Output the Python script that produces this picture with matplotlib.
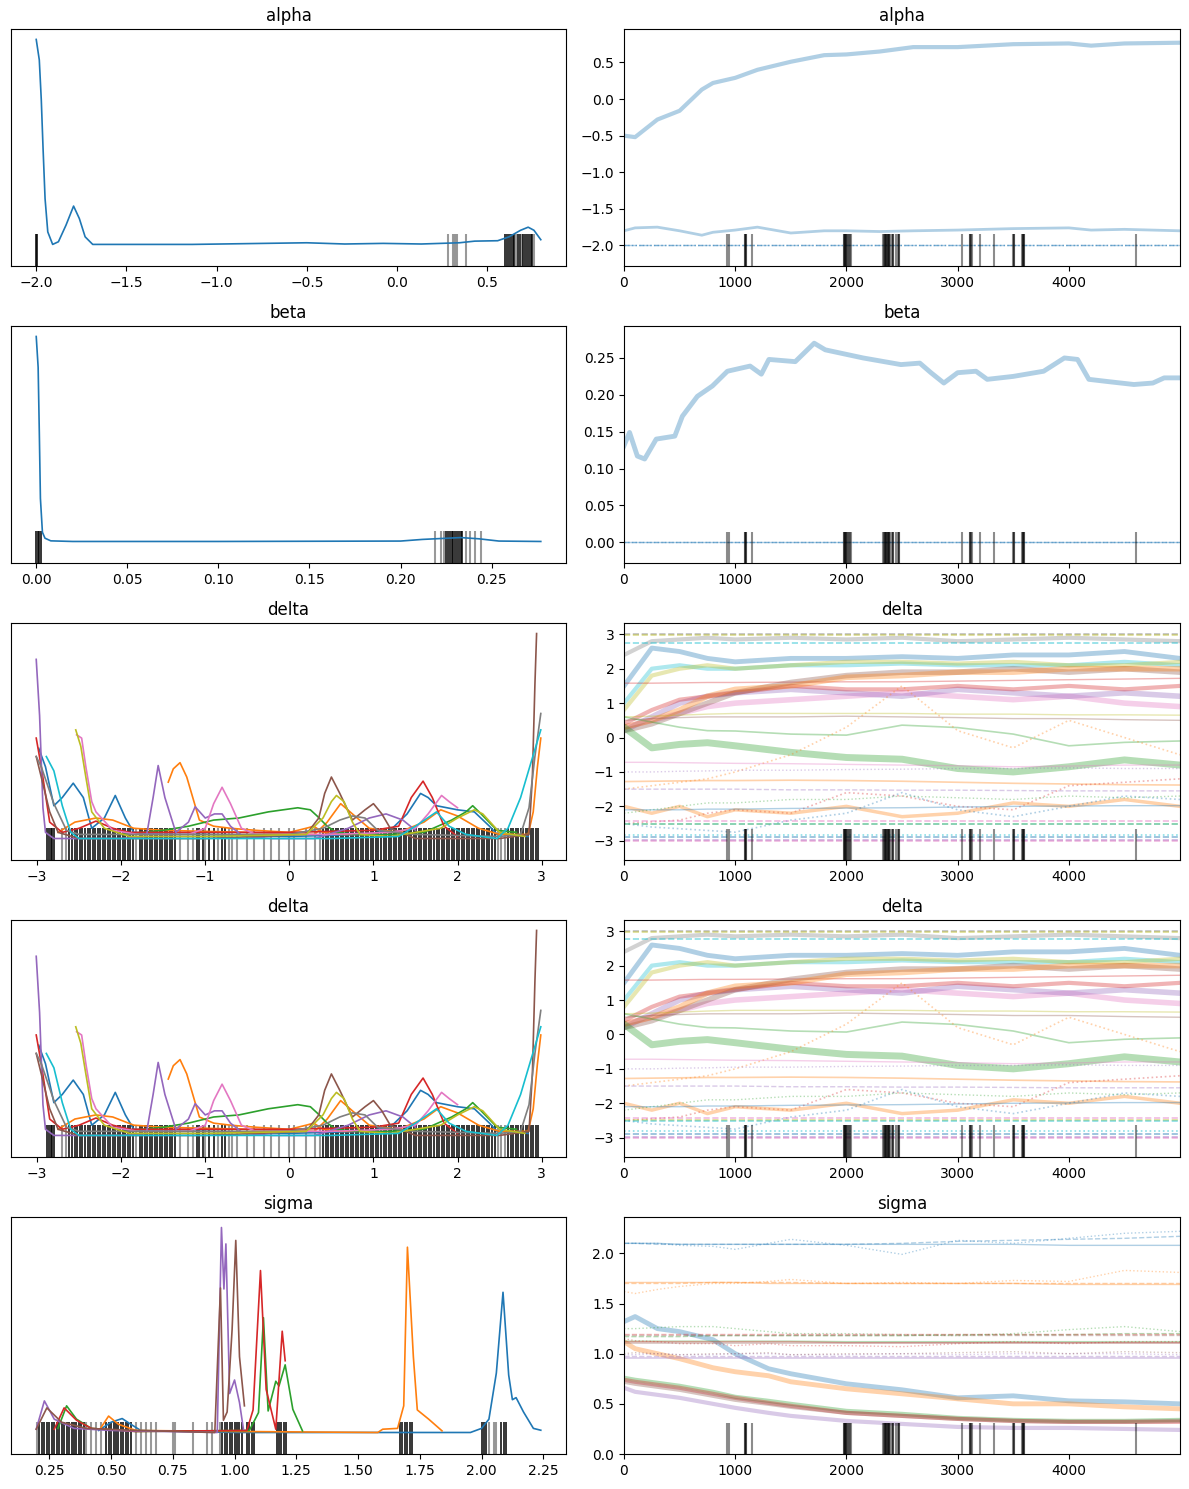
import numpy as np
import matplotlib
matplotlib.use("Agg")
import matplotlib.pyplot as plt

# ---- draws where divergences happened (shared by all trace panels)
div_draws = [930, 940, 1090, 1090, 1095, 1100, 1150, 1975, 1980, 1985, 1990, 1995,
             2000, 2005, 2010, 2020, 2030, 2040, 2330, 2340, 2345, 2350, 2355, 2360,
             2365, 2370, 2375, 2380, 2385, 2390, 2410, 2415, 2420, 2450, 2460, 2470,
             2475, 3040, 3110, 3115, 3120, 3125, 3200, 3330, 3500, 3505, 3510, 3580,
             3585, 3590, 3595, 3600, 4600]

# ---- alpha
alpha_kde_x = [-2.0, -1.983, -1.972, -1.962, -1.951, -1.936, -1.909, -1.877, -1.835, -1.793,
               -1.761, -1.729, -1.687, -1.136, -0.501, -0.29, -0.078, 0.134, 0.345, 0.43,
               0.557, 0.62, 0.684, 0.726, 0.758, 0.796]
alpha_kde_y = [1.0, 0.90, 0.706, 0.465, 0.223, 0.061, 0.0, 0.013, 0.094, 0.187,
               0.126, 0.037, 0.0, 0.0, 0.008, 0.002, 0.005, 0.002, 0.008, 0.016,
               0.018, 0.037, 0.069, 0.084, 0.069, 0.023]
alpha_div_dense = [-2.0, -1.998, 0.60, 0.61, 0.62, 0.63, 0.64, 0.65, 0.67, 0.68, 0.70,
                   0.71, 0.72, 0.73, 0.74, 0.75]
alpha_div_sparse = [0.28, 0.31, 0.32, 0.33, 0.38, 0.66, 0.69, 0.76]
alpha_steps = [0, 100, 300, 500, 700, 800, 1000, 1200, 1500, 1800, 2000, 2300, 2600,
               3000, 3500, 4000, 4200, 4500, 4999]
alpha_chain0 = [-0.5, -0.52, -0.28, -0.16, 0.13, 0.22, 0.29, 0.4, 0.51, 0.6, 0.61, 0.65,
                0.71, 0.71, 0.75, 0.76, 0.73, 0.76, 0.77]
alpha_chain1 = [-1.8, -1.76, -1.75, -1.8, -1.86, -1.82, -1.79, -1.75, -1.83, -1.8, -1.8,
                -1.81, -1.8, -1.79, -1.77, -1.76, -1.79, -1.78, -1.8]
alpha_stuck = -2.0

# ---- beta
beta_kde_x = [0.0, 0.00105, 0.0017, 0.0023, 0.0034, 0.0048, 0.008, 0.02, 0.1, 0.2,
              0.212, 0.233, 0.243, 0.254, 0.277]
beta_kde_y = [1.0, 0.85, 0.53, 0.21, 0.045, 0.016, 0.003, 0.0, 0.0, 0.002,
              0.01, 0.019, 0.013, 0.002, 0.0]
beta_div_dense = [0.0, 0.0008, 0.0016, 0.0024, 0.225, 0.226, 0.227, 0.228, 0.229, 0.230,
                  0.231, 0.232, 0.233, 0.234]
beta_div_sparse = [0.219, 0.222, 0.224, 0.236, 0.238, 0.241, 0.244]
beta_steps = [0, 50, 120, 186, 290, 457, 525, 660, 795, 930, 1134, 1235, 1303, 1540,
              1710, 1810, 2150, 2490, 2660, 2760, 2876, 3000, 3165, 3266, 3500, 3773,
              3960, 4078, 4180, 4350, 4585, 4755, 4857, 4999]
beta_chain0 = [0.131, 0.149, 0.117, 0.113, 0.14, 0.144, 0.171, 0.198, 0.212, 0.232,
               0.239, 0.228, 0.248, 0.245, 0.27, 0.261, 0.25, 0.241, 0.243, 0.23, 0.216,
               0.23, 0.232, 0.221, 0.225, 0.232, 0.25, 0.248, 0.221, 0.218, 0.214, 0.216,
               0.223, 0.223]
beta_stuck = 0.001

# ---- delta (density curves, one per component)
kde_d0_x = [-2.98, -2.9, -2.8, -2.7, -2.57, -2.45, -2.35, -2.2, -2.07, -1.95, -1.85, -1.5,
            -1.0, 0.0, 0.9, 1.2, 1.4, 1.56, 1.65, 1.75, 2.0, 2.2, 2.38, 2.47, 2.6, 2.84]
kde_d0_y = [0.44, 0.35, 0.16, 0.2, 0.27, 0.2, 0.05, 0.1, 0.21, 0.1, 0.03, 0.02,
            0.02, 0.01, 0.02, 0.04, 0.12, 0.22, 0.2, 0.16, 0.14, 0.13, 0.06, 0.02, 0.02, 0.01]
kde_d1a_x = [-1.44, -1.38, -1.3, -1.22, -1.07, -0.9, -0.7, -0.4, 0.0, 0.2, 0.29, 0.4, 0.6, 1.0]
kde_d1a_y = [0.275, 0.34, 0.37, 0.3, 0.09, 0.06, 0.05, 0.04, 0.03, 0.05, 0.06, 0.03, 0.02, 0.02]
kde_d1b_x = [-2.75, -2.55, -2.3, -2.1, -1.85, -1.5, -0.5, 0.3, 0.45, 0.61, 0.75, 0.95, 1.3,
             1.6, 1.8, 2.0, 2.25, 2.5, 2.84, 2.9, 2.95, 2.99]
kde_d1b_y = [0.03, 0.08, 0.10, 0.09, 0.05, 0.04, 0.03, 0.02, 0.08, 0.17, 0.12, 0.05, 0.03,
             0.08, 0.14, 0.11, 0.05, 0.02, 0.02, 0.13, 0.35, 0.49]
kde_d2_x = [-2.0, -1.5, -1.2, -0.9, -0.6, -0.25, 0.1, 0.25, 0.33, 0.45, 0.56, 0.8, 1.2, 1.6,
            1.93, 2.1, 2.18, 2.28, 2.47, 2.7]
kde_d2_y = [0.02, 0.04, 0.06, 0.09, 0.1, 0.13, 0.15, 0.14, 0.11, 0.06, 0.03, 0.02, 0.02, 0.03,
            0.09, 0.13, 0.16, 0.12, 0.04, 0.03]
kde_d3_x = [-3.01, -2.95, -2.85, -2.7, -2.5, -2.3, -2.1, -1.9, -1.0, 0.0, 1.0, 1.3, 1.45,
            1.59, 1.7, 1.84, 2.0]
kde_d3_y = [0.49, 0.35, 0.08, 0.03, 0.05, 0.085, 0.05, 0.03, 0.03, 0.03, 0.04, 0.06, 0.2,
            0.28, 0.2, 0.06, 0.01]
kde_d4_x = [-3.01, -2.97, -2.93, -2.9, -2.8, -2.0, -1.7, -1.62, -1.56, -1.48, -1.35, -1.2,
            -1.12, -1.0, -0.89, -0.8, -0.7, -0.55, -0.2, 0.3, 0.7, 0.95, 1.15, 1.35, 1.5]
kde_d4_y = [0.874, 0.6, 0.15, 0.03, 0.0, 0.0, 0.01, 0.2, 0.356, 0.2, 0.03, 0.08,
            0.155, 0.1, 0.12, 0.12, 0.06, 0.01, 0.0, 0.0, 0.05, 0.1, 0.12, 0.09, 0.04]
kde_d5_x = [-3.01, -2.95, -2.85, -2.75, -2.5, -1.0, 0.2, 0.35, 0.42, 0.5, 0.6, 0.75, 0.9,
            1.0, 1.1, 1.2, 1.5, 2.5, 2.85, 2.89, 2.92, 2.94]
kde_d5_y = [0.40, 0.3, 0.13, 0.03, 0.0, 0.0, 0.02, 0.1, 0.22, 0.30, 0.22, 0.09, 0.14,
            0.17, 0.12, 0.05, 0.0, 0.0, 0.02, 0.3, 0.75, 1.0]
kde_d6_x = [-2.53, -2.47, -2.42, -2.35, -2.3, -2.1, -1.8, -1.2, -1.0, -0.9, -0.8, -0.7,
            -0.57, -0.4, 0.5, 1.2, 1.5, 1.65, 1.81, 1.9, 2.0]
kde_d6_y = [0.506, 0.49, 0.35, 0.18, 0.13, 0.04, 0.02, 0.02, 0.05, 0.17, 0.25, 0.17,
            0.05, 0.02, 0.02, 0.03, 0.05, 0.12, 0.21, 0.18, 0.15]
kde_d7_x = [-3.01, -2.95, -2.8, -2.65, -2.5, -1.5, 0.0, 0.4, 0.6, 0.75, 0.9, 1.05, 1.5,
            2.5, 2.75, 2.85, 2.92, 2.99]
kde_d7_y = [0.40, 0.35, 0.17, 0.04, 0.02, 0.02, 0.02, 0.05, 0.09, 0.11, 0.1, 0.04, 0.02,
            0.01, 0.02, 0.15, 0.4, 0.61]
kde_d8_x = [-2.54, -2.48, -2.42, -2.35, -2.2, -1.9, -1.0, 0.2, 0.4, 0.5, 0.56, 0.65, 0.75,
            0.84, 1.2, 1.8, 2.0, 2.2, 2.3, 2.5, 2.8]
kde_d8_y = [0.53, 0.45, 0.3, 0.13, 0.05, 0.01, 0.01, 0.02, 0.1, 0.18, 0.21, 0.18, 0.08,
            0.02, 0.01, 0.05, 0.1, 0.14, 0.12, 0.03, 0.01]
kde_d9_x = [-2.89, -2.8, -2.7, -2.6, -2.5, -1.0, 0.5, 1.3, 1.5, 1.75, 1.9, 2.1, 2.47, 2.6,
            2.75, 2.88, 2.99]
kde_d9_y = [0.40, 0.33, 0.16, 0.03, 0.0, 0.0, 0.0, 0.01, 0.06, 0.13, 0.06, 0.02, 0.0, 0.05,
            0.2, 0.38, 0.53]

delta_div_dense = [-2.88, -2.86, -2.84, -2.82, -2.80, -2.62, -2.58, -2.55, -2.52, -2.49,
                   -2.46, -2.43, -2.4, -2.37, -2.34, -2.31, -2.28, -2.25, -2.22, -2.19,
                   -2.16, -2.13, -2.1, -2.07, -2.04, -2.01, -1.98, -1.95, -1.92, -1.89,
                   -1.86, -1.78, -1.75, -1.72, -1.69, -1.66, -1.63, -1.6, -1.57, -1.54,
                   -1.51, -1.48, -1.45, -1.42, -1.39, -1.36, -1.1, -1.07, -1.03, -0.95,
                   -0.9, -0.8, -0.76, 0.4, 0.43, 0.46, 0.49, 0.52, 0.55, 0.58, 0.61, 0.64,
                   0.67, 0.7, 0.73, 0.76, 0.79, 0.82, 0.85, 0.88, 0.91, 0.94, 0.97, 1.0,
                   1.03, 1.06, 1.09, 1.12, 1.15, 1.18, 1.21, 1.24, 1.27, 1.3, 1.33, 1.36,
                   1.39, 1.42, 1.45, 1.48, 1.51, 1.54, 1.57, 1.6, 1.63, 1.66, 1.69, 1.72,
                   1.75, 1.78, 1.81, 1.84, 1.87, 1.9, 1.93, 1.96, 1.99, 2.02, 2.05, 2.08,
                   2.11, 2.14, 2.17, 2.2, 2.23, 2.26, 2.29, 2.32, 2.35, 2.38, 2.41, 2.44,
                   2.6, 2.63, 2.66, 2.69, 2.72, 2.75, 2.78, 2.81, 2.84, 2.87, 2.9, 2.93, 2.96]
delta_div_sparse = [-2.7, -2.66, -1.82, -1.3, -1.2, -1.15, -1.0, -0.85, -0.72, -0.68,
                    -0.62, -0.5, -0.42, -0.3, -0.22, -0.12, 0.0, 0.05, 0.2, 0.3, 0.36,
                    2.48, 2.52, 2.56]

# ---- delta traces, read at these draws
delta_steps = [0, 250, 500, 750, 1000, 1500, 2000, 2500, 3000, 3500, 4000, 4500, 4999]
dtr_gray_noisy = [2.4, 2.8, 2.85, 2.9, 2.85, 2.9, 2.85, 2.9, 2.8, 2.85, 2.9, 2.85, 2.8]
dtr_blue_noisy = [1.5, 2.6, 2.5, 2.3, 2.2, 2.3, 2.3, 2.35, 2.3, 2.4, 2.4, 2.5, 2.3]
dtr_cyan_noisy = [1.0, 2.0, 2.1, 2.0, 2.0, 2.1, 2.1, 2.15, 2.1, 2.1, 2.1, 2.2, 2.1]
dtr_olive_noisy = [0.8, 1.8, 2.0, 2.1, 2.0, 2.1, 2.2, 2.2, 2.15, 2.2, 2.1, 2.1, 2.2]
dtr_orange_noisy = [0.3, 0.5, 0.8, 1.2, 1.4, 1.5, 1.75, 1.8, 1.9, 1.9, 2.0, 2.0, 2.0]
dtr_brown_noisy = [0.2, 0.4, 0.7, 1.0, 1.3, 1.6, 1.8, 1.9, 1.9, 2.0, 1.9, 2.0, 1.9]
dtr_red_flat = [1.58, 1.58, 1.59, 1.6, 1.6, 1.61, 1.62, 1.62, 1.64, 1.66, 1.68, 1.7, 1.72]
dtr_pink_noisy = [0.3, 0.5, 0.7, 0.9, 1.0, 1.1, 1.2, 1.3, 1.2, 1.1, 1.2, 1.0, 0.9]
dtr_purple_noisy = [0.2, 0.6, 1.0, 1.2, 1.3, 1.4, 1.3, 1.2, 1.4, 1.3, 1.2, 1.3, 1.2]
dtr_red_noisy = [0.4, 0.8, 1.1, 1.2, 1.3, 1.5, 1.4, 1.4, 1.5, 1.4, 1.5, 1.4, 1.5]
dtr_brown_flat = [0.5, 0.55, 0.58, 0.6, 0.6, 0.6, 0.62, 0.6, 0.58, 0.55, 0.55, 0.52, 0.5]
dtr_olive_flat = [0.6, 0.62, 0.65, 0.68, 0.7, 0.7, 0.7, 0.7, 0.68, 0.68, 0.66, 0.66, 0.65]
dtr_green_noisy = [0.3, -0.3, -0.2, -0.15, -0.24, -0.43, -0.58, -0.63, -0.9, -1.0, -0.85, -0.65, -0.8]
dtr_green_flat = [0.6, 0.45, 0.3, 0.2, 0.19, 0.1, 0.07, 0.36, 0.29, 0.1, -0.24, -0.14, -0.1]
dtr_orange_dot = [-1.5, -1.4, -1.3, -1.2, -1.0, -0.5, 0.3, 1.5, 0.2, -0.3, 0.5, 0.0, -0.5]
dtr_pink_flat = [-0.72, -0.72, -0.73, -0.74, -0.75, -0.76, -0.78, -0.8, -0.82, -0.85, -0.83, -0.8, -0.8]
dtr_purple_dot = [-1.0, -1.0, -0.98, -0.97, -0.95, -0.95, -0.93, -0.92, -0.9, -0.9, -0.88, -0.9, -0.9]
dtr_orange_flat = [-1.28, -1.27, -1.26, -1.25, -1.25, -1.24, -1.25, -1.27, -1.3, -1.33, -1.35, -1.37, -1.38]
dtr_purple_dash = [-1.5, -1.5, -1.5, -1.5, -1.5, -1.52, -1.52, -1.53, -1.53, -1.54, -1.55, -1.55, -1.55]
dtr_red_dot = [-2.5, -2.45, -2.4, -2.2, -2.1, -2.2, -1.6, -1.7, -2.0, -2.1, -1.4, -1.3, -1.2]
dtr_orange_noisy2 = [-2.0, -2.2, -2.0, -2.3, -2.1, -2.2, -2.0, -2.3, -2.2, -1.9, -2.0, -1.8, -2.0]
dtr_blue_flat = [-2.1, -2.1, -2.1, -2.08, -2.08, -2.06, -2.05, -2.04, -2.02, -2.0, -1.99, -1.98, -1.98]
dtr_blue_dot = [-2.5, -2.6, -2.65, -2.7, -2.75, -2.4, -2.2, -1.6, -2.1, -2.3, -2.0, -1.7, -1.8]
dtr_green_dot = [-2.2, -2.1, -2.0, -1.9, -1.9, -1.8, -1.8, -1.7, -1.75, -1.8, -1.7, -1.75, -1.7]
delta_flat_levels = [3.0, 2.97, 2.76, -2.42, -2.5, -2.52, -2.82, -2.9, -2.97, -3.0]

# ---- sigma
kde_s0_x = [0.45, 0.5, 0.545, 0.58, 0.62, 1.0, 1.5, 1.955, 2.0, 2.03, 2.06, 2.087, 2.11,
            2.125, 2.14, 2.17, 2.21, 2.24]
kde_s0_y = [0.01, 0.05, 0.068, 0.04, 0.01, 0.0, 0.0, 0.0, 0.02, 0.065, 0.29, 0.684, 0.28,
            0.16, 0.17, 0.10, 0.02, 0.011]
kde_s1_x = [0.455, 0.49, 0.53, 0.6, 1.0, 1.58, 1.6, 1.66, 1.685, 1.70, 1.724, 1.74, 1.786, 1.84]
kde_s1_y = [0.016, 0.08, 0.04, 0.01, 0.005, 0.0, 0.016, 0.02, 0.13, 0.904, 0.37, 0.11, 0.065, 0.008]
kde_s2_x = [0.285, 0.32, 0.36, 0.42, 0.6, 1.06, 1.097, 1.117, 1.136, 1.167, 1.18, 1.205,
            1.236, 1.275]
kde_s2_y = [0.02, 0.13, 0.065, 0.02, 0.005, 0.01, 0.097, 0.56, 0.105, 0.25, 0.227, 0.33,
            0.113, 0.008]
kde_s3_x = [0.27, 0.31, 0.36, 0.42, 0.6, 1.05, 1.075, 1.105, 1.128, 1.167, 1.193, 1.205]
kde_s3_y = [0.016, 0.12, 0.06, 0.02, 0.005, 0.01, 0.11, 0.79, 0.21, 0.016, 0.494, 0.35]
kde_s4_x = [0.197, 0.23, 0.27, 0.35, 0.5, 0.93, 0.947, 0.957, 0.965, 0.98, 1.0, 1.02, 1.036]
kde_s4_y = [0.016, 0.154, 0.065, 0.02, 0.01, 0.0, 1.0, 0.7, 0.92, 0.19, 0.256, 0.146, 0.016]
kde_s5_x = [0.197, 0.24, 0.3, 0.4, 0.6, 0.92, 0.943, 0.955, 0.97, 0.99, 1.005, 1.02, 1.04]
kde_s5_y = [0.016, 0.12, 0.05, 0.02, 0.01, 0.0, 0.705, 0.06, 0.1, 0.5, 0.937, 0.37, 0.13]

sigma_div_dense = [0.21, 0.22, 0.23, 0.24, 0.25, 0.26, 0.27, 0.28, 0.29, 0.3, 0.31, 0.32,
                   0.33, 0.34, 0.35, 0.36, 0.37, 0.38, 0.39, 0.48, 0.49, 0.5, 0.51, 0.52,
                   0.53, 0.54, 0.55, 0.56, 0.57, 0.58, 0.95, 0.96, 0.97, 0.98, 0.99, 1.0,
                   1.01, 1.02, 1.03, 1.05, 1.06, 1.07, 1.08, 1.17, 1.18, 1.19, 1.2, 1.21,
                   1.67, 1.68, 1.69, 1.7, 1.71, 1.72, 2.0, 2.01, 2.02, 2.08, 2.09, 2.1]
sigma_div_sparse = [0.2, 0.4, 0.42, 0.44, 0.46, 0.6, 0.62, 0.64, 0.66, 0.68, 0.75, 0.76,
                    0.83, 0.89, 0.91, 0.94, 2.03, 2.05, 2.06]

sigma_steps = [0, 100, 300, 500, 800, 1000, 1300, 1500, 2000, 2500, 3000, 3500, 4000, 4500, 4999]
str_blue_noisy = [1.32, 1.37, 1.25, 1.22, 1.14, 1.0, 0.85, 0.8, 0.7, 0.64, 0.56, 0.58, 0.53, 0.52, 0.5]
str_blue_solid = [2.1, 2.1, 2.1, 2.09, 2.09, 2.09, 2.09, 2.09, 2.09, 2.09, 2.09, 2.09, 2.08, 2.08, 2.08]
str_blue_dash = [2.1, 2.1, 2.09, 2.09, 2.09, 2.09, 2.09, 2.09, 2.09, 2.1, 2.12, 2.13, 2.14, 2.15, 2.17]
str_blue_dot = [2.1, 2.1, 2.1, 2.08, 2.07, 2.04, 2.1, 2.14, 2.08, 1.99, 2.13, 2.1, 2.15, 2.2, 2.22]
str_orange_noisy = [1.12, 1.05, 1.0, 0.95, 0.86, 0.82, 0.78, 0.72, 0.65, 0.6, 0.55, 0.5, 0.5, 0.47, 0.45]
str_orange_solid = [1.71, 1.71, 1.71, 1.71, 1.71, 1.71, 1.7, 1.7, 1.7, 1.7, 1.7, 1.7, 1.69, 1.69, 1.69]
str_orange_dash = [1.7, 1.7, 1.7, 1.7, 1.71, 1.71, 1.71, 1.71, 1.7, 1.7, 1.7, 1.7, 1.7, 1.7, 1.7]
str_orange_dot = [1.62, 1.6, 1.64, 1.67, 1.7, 1.7, 1.72, 1.74, 1.7, 1.71, 1.7, 1.73, 1.72, 1.83, 1.81]
str_green_noisy = [0.76, 0.74, 0.71, 0.68, 0.62, 0.57, 0.53, 0.5, 0.43, 0.4, 0.36, 0.34, 0.33, 0.33, 0.34]
str_green_solid = [1.125, 1.125, 1.125, 1.125, 1.125, 1.125, 1.125, 1.125, 1.12, 1.12, 1.12, 1.12, 1.12, 1.12, 1.12]
str_green_dash = [1.17, 1.17, 1.17, 1.17, 1.18, 1.18, 1.18, 1.18, 1.18, 1.18, 1.19, 1.19, 1.19, 1.2, 1.2]
str_green_dot = [1.25, 1.25, 1.26, 1.27, 1.27, 1.25, 1.22, 1.2, 1.2, 1.19, 1.18, 1.2, 1.24, 1.27, 1.22]
str_red_noisy = [0.74, 0.72, 0.69, 0.66, 0.6, 0.56, 0.51, 0.48, 0.41, 0.38, 0.35, 0.33, 0.32, 0.32, 0.32]
str_red_solid = [1.12, 1.12, 1.12, 1.12, 1.12, 1.12, 1.12, 1.12, 1.11, 1.11, 1.11, 1.11, 1.11, 1.11, 1.11]
str_red_dash = [1.2, 1.2, 1.2, 1.2, 1.2, 1.2, 1.2, 1.2, 1.2, 1.2, 1.2, 1.2, 1.2, 1.2, 1.2]
str_red_dot = [1.15, 1.13, 1.12, 1.1, 1.1, 1.08, 1.1, 1.08, 1.08, 1.07, 1.1, 1.12, 1.1, 1.12, 1.12]
str_purple_noisy = [0.66, 0.62, 0.59, 0.56, 0.5, 0.46, 0.41, 0.38, 0.33, 0.3, 0.27, 0.26, 0.26, 0.25, 0.24]
str_purple_solid = [0.955, 0.955, 0.955, 0.955, 0.955, 0.955, 0.955, 0.955, 0.955, 0.955, 0.955, 0.955, 0.955, 0.955, 0.955]
str_purple_dash = [0.975, 0.975, 0.975, 0.975, 0.975, 0.975, 0.975, 0.975, 0.975, 0.975, 0.975, 0.975, 0.975, 0.975, 0.975]
str_purple_dot = [0.99, 0.99, 1.0, 0.99, 0.99, 1.0, 1.0, 0.99, 0.99, 1.0, 0.99, 1.0, 1.0, 1.0, 0.99]
str_brown_noisy = [0.72, 0.7, 0.67, 0.64, 0.58, 0.54, 0.5, 0.47, 0.41, 0.38, 0.35, 0.33, 0.32, 0.32, 0.33]
str_brown_solid = [1.11, 1.11, 1.11, 1.11, 1.11, 1.11, 1.11, 1.11, 1.11, 1.11, 1.11, 1.11, 1.11, 1.11, 1.11]
str_brown_dash = [1.19, 1.19, 1.19, 1.19, 1.19, 1.19, 1.19, 1.19, 1.19, 1.19, 1.19, 1.19, 1.19, 1.19, 1.19]
str_brown_dot = [1.0, 1.01, 1.0, 0.99, 1.0, 1.0, 1.01, 0.99, 1.0, 1.0, 1.01, 1.02, 1.0, 1.02, 1.01]

TA = 0.35  # trace alpha


def kde_panel(ax, curves, dense, sparse, title):
    # rug first, density curves on top of it
    ax.vlines(dense, -0.105, 0.052, color="k", alpha=0.85, lw=1.3, zorder=1)
    ax.vlines(sparse, -0.105, 0.052, color="k", alpha=0.4, lw=1.5, zorder=1)
    for col, xs, ys in curves:
        ax.plot(xs, ys, color=col, lw=1.2, zorder=3)
    ax.set_ylim(-0.105, 1.05)
    ax.set_yticks([])
    ax.set_title(title)


def trace_rug(ax):
    ax.vlines(div_draws, 0, 0.133, color="k", alpha=0.45, lw=1.5,
              transform=ax.get_xaxis_transform())
    ax.set_xlim(0, 4999)
    ax.set_xticks([0, 1000, 2000, 3000, 4000])


fig = plt.figure(figsize=(11.89, 14.89), dpi=100)
bottoms = [0.8214, 0.6219, 0.4224, 0.2230, 0.0235]
axl = [fig.add_axes([0.00925, b, 0.4668, 0.159]) for b in bottoms]
axr = [fig.add_axes([0.5248, b, 0.4676, 0.159]) for b in bottoms]

# alpha
kde_panel(axl[0], [("C0", alpha_kde_x, alpha_kde_y)], alpha_div_dense, alpha_div_sparse, "alpha")
ax = axr[0]
ax.plot(alpha_steps, alpha_chain0, color="C0", alpha=TA, lw=3)
ax.plot(alpha_steps, alpha_chain1, color="C0", alpha=TA, lw=2)
for ls in ["--", ":", "-."]:
    ax.axhline(alpha_stuck, color="C0", alpha=TA, lw=1, ls=ls)
trace_rug(ax)
ax.set_ylim(-2.28, 0.955)
ax.set_title("alpha")

# beta
kde_panel(axl[1], [("C0", beta_kde_x, beta_kde_y)], beta_div_dense, beta_div_sparse, "beta")
ax = axr[1]
ax.plot(beta_steps, beta_chain0, color="C0", alpha=TA, lw=3.5)
for ls in ["-", "--", ":"]:
    ax.axhline(beta_stuck, color="C0", alpha=TA, lw=1, ls=ls)
trace_rug(ax)
ax.set_ylim(-0.028, 0.293)
ax.set_title("beta")

# delta (drawn twice, as in the reference)
delta_curves = [("C0", kde_d0_x, kde_d0_y), ("C1", kde_d1a_x, kde_d1a_y),
                ("C1", kde_d1b_x, kde_d1b_y), ("C2", kde_d2_x, kde_d2_y),
                ("C3", kde_d3_x, kde_d3_y), ("C4", kde_d4_x, kde_d4_y),
                ("C5", kde_d5_x, kde_d5_y), ("C6", kde_d6_x, kde_d6_y),
                ("C7", kde_d7_x, kde_d7_y), ("C8", kde_d8_x, kde_d8_y),
                ("C9", kde_d9_x, kde_d9_y)]
delta_traces = [
    ("C7", "-", 3, dtr_gray_noisy), ("C0", "-", 3.5, dtr_blue_noisy),
    ("C9", "-", 3, dtr_cyan_noisy), ("C8", "-", 3, dtr_olive_noisy),
    ("C3", "-", 1, dtr_red_flat), ("C6", "-", 4, dtr_pink_noisy),
    ("C4", "-", 4, dtr_purple_noisy), ("C3", "-", 3, dtr_red_noisy),
    ("C5", "-", 4, dtr_brown_noisy), ("C1", "-", 4, dtr_orange_noisy),
    ("C5", "-", 1, dtr_brown_flat), ("C8", "-", 1, dtr_olive_flat),
    ("C2", "-", 5, dtr_green_noisy), ("C2", "-", 1.2, dtr_green_flat),
    ("C1", ":", 1.2, dtr_orange_dot), ("C6", "-", 1, dtr_pink_flat),
    ("C4", ":", 1, dtr_purple_dot), ("C1", "-", 1.2, dtr_orange_flat),
    ("C4", "--", 1, dtr_purple_dash), ("C3", ":", 1.2, dtr_red_dot),
    ("C1", "-", 2.5, dtr_orange_noisy2), ("C0", "-", 1, dtr_blue_flat),
    ("C0", ":", 1.2, dtr_blue_dot), ("C2", ":", 1, dtr_green_dot)]
flat_styles = [("C7", "--"), ("C8", "--"), ("C9", "--"), ("C6", "--"), ("C8", "--"),
               ("C9", "--"), ("C9", ":"), ("C0", "--"), ("C4", "--"), ("C6", "--")]
for k in (2, 3):
    kde_panel(axl[k], delta_curves, delta_div_dense, delta_div_sparse, "delta")
    ax = axr[k]
    for col, ls, lw, ys in delta_traces:
        ax.plot(delta_steps, ys, color=col, ls=ls, lw=lw, alpha=TA)
    for lev, (col, ls) in zip(delta_flat_levels, flat_styles):
        ax.axhline(lev, color=col, ls=ls, lw=1.2, alpha=0.5)
    trace_rug(ax)
    ax.set_ylim(-3.56, 3.32)
    ax.set_title("delta")

# sigma
sigma_curves = [("C0", kde_s0_x, kde_s0_y), ("C1", kde_s1_x, kde_s1_y),
                ("C2", kde_s2_x, kde_s2_y), ("C3", kde_s3_x, kde_s3_y),
                ("C4", kde_s4_x, kde_s4_y), ("C5", kde_s5_x, kde_s5_y)]
kde_panel(axl[4], sigma_curves, sigma_div_dense, sigma_div_sparse, "sigma")
sigma_traces = [
    ("C0", "-", 3.5, str_blue_noisy), ("C0", "-", 1, str_blue_solid),
    ("C0", "--", 1, str_blue_dash), ("C0", ":", 1, str_blue_dot),
    ("C1", "-", 3.5, str_orange_noisy), ("C1", "-", 1, str_orange_solid),
    ("C1", "--", 1, str_orange_dash), ("C1", ":", 1, str_orange_dot),
    ("C2", "-", 3, str_green_noisy), ("C2", "-", 1, str_green_solid),
    ("C2", "--", 1, str_green_dash), ("C2", ":", 1, str_green_dot),
    ("C3", "-", 3, str_red_noisy), ("C3", "-", 1, str_red_solid),
    ("C3", "--", 1, str_red_dash), ("C3", ":", 1, str_red_dot),
    ("C4", "-", 3, str_purple_noisy), ("C4", "-", 1.2, str_purple_solid),
    ("C4", "--", 1, str_purple_dash), ("C4", ":", 1, str_purple_dot),
    ("C5", "-", 3, str_brown_noisy), ("C5", "-", 1.2, str_brown_solid),
    ("C5", "--", 1, str_brown_dash), ("C5", ":", 1, str_brown_dot)]
ax = axr[4]
for col, ls, lw, ys in sigma_traces:
    ax.plot(sigma_steps, ys, color=col, ls=ls, lw=lw, alpha=TA)
trace_rug(ax)
ax.set_ylim(0.0, 2.36)
ax.set_title("sigma")

fig.savefig("out.png", dpi=100)
